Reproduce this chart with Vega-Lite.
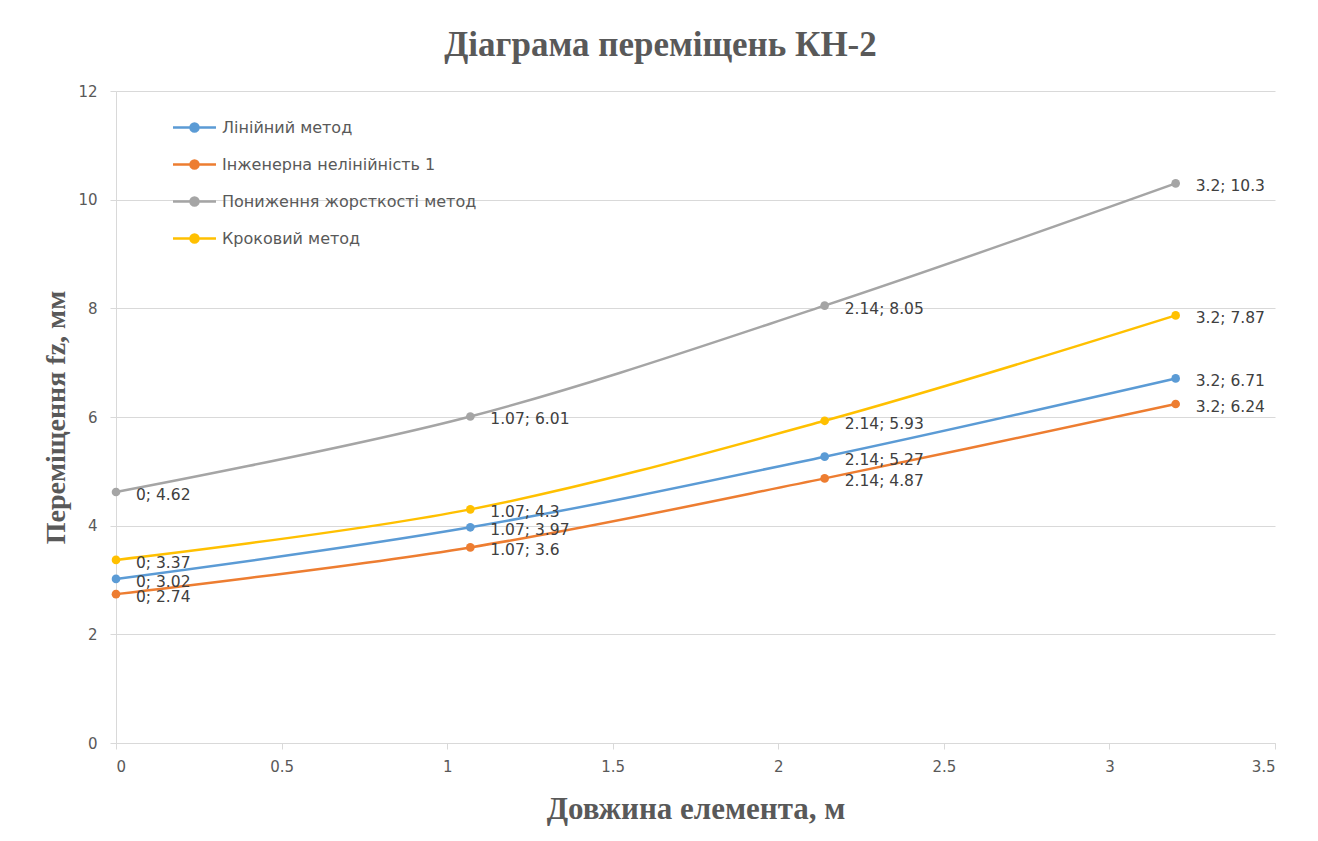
{
  "$schema": "https://vega.github.io/schema/vega-lite/v6.json",
  "width": 1159,
  "height": 652,
  "autosize": "none",
  "padding": {"left": 116, "top": 91, "right": 43, "bottom": 98},
  "background": "white",
  "title": {
    "text": "Діаграма переміщень КН-2",
    "font": "Liberation Serif",
    "fontSize": 35,
    "fontWeight": "bold",
    "color": "#595959",
    "anchor": "middle",
    "dx": -35,
    "offset": 21
  },
  "config": {
    "view": {"stroke": null},
    "axis": {
      "labelFont": "DejaVu Sans",
      "labelFontSize": 15,
      "labelColor": "#595959",
      "domainColor": "#d9d9d9",
      "tickColor": "#d9d9d9",
      "gridColor": "#d9d9d9",
      "titleFont": "Liberation Serif",
      "titleFontWeight": "bold",
      "titleColor": "#595959"
    }
  },
  "data": {
    "values": [
      {"series": "Лінійний метод", "x": 0, "y": 3.02, "label": "0; 3.02"},
      {"series": "Лінійний метод", "x": 1.07, "y": 3.97, "label": "1.07; 3.97"},
      {"series": "Лінійний метод", "x": 2.14, "y": 5.27, "label": "2.14; 5.27"},
      {"series": "Лінійний метод", "x": 3.2, "y": 6.71, "label": "3.2; 6.71"},
      {"series": "Інженерна нелінійність 1", "x": 0, "y": 2.74, "label": "0; 2.74"},
      {"series": "Інженерна нелінійність 1", "x": 1.07, "y": 3.6, "label": "1.07; 3.6"},
      {"series": "Інженерна нелінійність 1", "x": 2.14, "y": 4.87, "label": "2.14; 4.87"},
      {"series": "Інженерна нелінійність 1", "x": 3.2, "y": 6.24, "label": "3.2; 6.24"},
      {"series": "Пониження жорсткості метод", "x": 0, "y": 4.62, "label": "0; 4.62"},
      {"series": "Пониження жорсткості метод", "x": 1.07, "y": 6.01, "label": "1.07; 6.01"},
      {"series": "Пониження жорсткості метод", "x": 2.14, "y": 8.05, "label": "2.14; 8.05"},
      {"series": "Пониження жорсткості метод", "x": 3.2, "y": 10.3, "label": "3.2; 10.3"},
      {"series": "Кроковий метод", "x": 0, "y": 3.37, "label": "0; 3.37"},
      {"series": "Кроковий метод", "x": 1.07, "y": 4.3, "label": "1.07; 4.3"},
      {"series": "Кроковий метод", "x": 2.14, "y": 5.93, "label": "2.14; 5.93"},
      {"series": "Кроковий метод", "x": 3.2, "y": 7.87, "label": "3.2; 7.87"}
    ]
  },
  "encoding": {
    "x": {
      "field": "x",
      "type": "quantitative",
      "scale": {"domain": [0, 3.5], "nice": false, "zero": false},
      "axis": {
        "title": "Довжина елемента, м",
        "titleFontSize": 31,
        "titlePadding": 20,
        "values": [0, 0.5, 1, 1.5, 2, 2.5, 3, 3.5],
        "format": "~g",
        "grid": false,
        "tickSize": 6,
        "labelPadding": 10
      }
    },
    "y": {
      "field": "y",
      "type": "quantitative",
      "scale": {"domain": [0, 12], "nice": false},
      "axis": {
        "title": "Переміщення fz,  мм",
        "titleFontSize": 28,
        "titlePadding": 7,
        "values": [0, 2, 4, 6, 8, 10, 12],
        "grid": true,
        "tickSize": 6,
        "labelPadding": 13
      }
    },
    "color": {
      "field": "series",
      "type": "nominal",
      "scale": {
        "domain": ["Лінійний метод", "Інженерна нелінійність 1", "Пониження жорсткості метод", "Кроковий метод"],
        "range": ["#5B9BD5", "#ED7D31", "#A5A5A5", "#FFC000"]
      },
      "legend": {
        "title": null,
        "orient": "none",
        "legendX": 70,
        "legendY": 28,
        "padding": 0,
        "symbolType": "M-3.07,0H3.07M-0.57,0A0.57,0.57 0 1,0 0.57,0A0.57,0.57 0 1,0 -0.57,0Z",
        "symbolSize": 196,
        "symbolStrokeWidth": 2.5,
        "labelOffset": 19,
        "rowPadding": 18,
        "labelFont": "DejaVu Sans",
        "labelFontSize": 16,
        "labelColor": "#595959",
        "labelLimit": 400,
        "encode": {
          "symbols": {
            "update": {
              "fill": {"scale": "color", "field": "value"},
              "stroke": {"scale": "color", "field": "value"},
              "strokeWidth": {"value": 2.5},
              "opacity": {"value": 1},
              "fillOpacity": {"value": 1}
            }
          }
        }
      }
    }
  },
  "layer": [
    {
      "mark": {"type": "line", "interpolate": "catmull-rom", "strokeWidth": 2.5},
      "encoding": {"detail": {"field": "series"}}
    },
    {
      "mark": {"type": "point", "filled": true, "size": 75, "opacity": 1}
    },
    {
      "mark": {
        "type": "text",
        "align": "left",
        "baseline": "middle",
        "dx": 20,
        "dy": 3,
        "font": "DejaVu Sans",
        "fontSize": 15.5
      },
      "encoding": {
        "text": {"field": "label"},
        "color": {"value": "#404040"}
      }
    }
  ]
}
